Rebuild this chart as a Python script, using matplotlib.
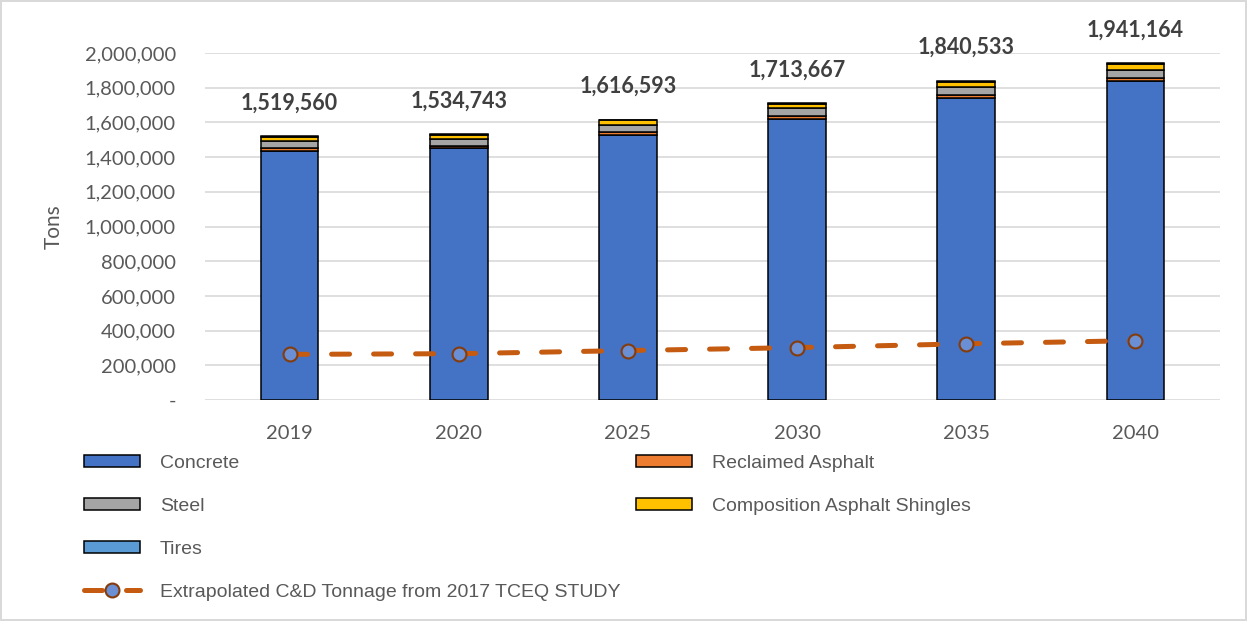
import matplotlib
matplotlib.use("Agg")
import matplotlib.pyplot as plt
import numpy as np
from matplotlib.lines import Line2D
from matplotlib.patches import Patch

years = ["2019", "2020", "2025", "2030", "2035", "2040"]
concrete = [1437000, 1450000, 1528000, 1620000, 1741000, 1836000]
reclaimed_asphalt = [16000, 16500, 17500, 18500, 19500, 20500]
steel = [38000, 38500, 40000, 42000, 45000, 47500]
shingles = [24560, 25000, 26000, 27500, 29000, 30500]
tires = [4000, 4743, 5093, 5667, 6033, 6664]
totals = [1519560, 1534743, 1616593, 1713667, 1840533, 1941164]
tceq_extrapolated = [263000, 267000, 285000, 302000, 324000, 342000]

series = [
    ("Concrete", concrete, "#4472C4"),
    ("Reclaimed Asphalt", reclaimed_asphalt, "#ED7D31"),
    ("Steel", steel, "#A5A5A5"),
    ("Composition Asphalt Shingles", shingles, "#FFC000"),
    ("Tires", tires, "#5B9BD5"),
]

TXT = "#595959"
TICK_FONT = ["Lato", "DejaVu Sans"]
LEG_FONT = ["Liberation Sans", "DejaVu Sans"]

fig = plt.figure(figsize=(12.47, 6.21), dpi=100)
fig.patch.set_edgecolor("#d9d9d9")
fig.patch.set_linewidth(1.5)
ax = fig.add_axes([205 / 1247, 1 - 400 / 621, 1015 / 1247, 347 / 621])

x = np.arange(len(years))
bottom = np.zeros(len(years))
handles = {}
for name, vals, color in series:
    vals = np.array(vals, dtype=float)
    ax.bar(x, vals, width=0.34, bottom=bottom, color=color,
           edgecolor="black", linewidth=1.1, zorder=2)
    handles[name] = Patch(facecolor=color, edgecolor="black", linewidth=1.1)
    bottom += vals

# total labels sit well above each bar
for xi, tot in zip(x, totals):
    ax.text(xi, tot + 190000, f"{tot:,}", ha="center", va="center",
            fontsize=15.5, fontweight="bold", color="#404040", family=TICK_FONT,
            clip_on=False)

ax.plot(x, tceq_extrapolated, color="#C55A11", linewidth=3.6,
        dashes=(3.6, 4.8), dash_capstyle="round", marker="o",
        markersize=10, markerfacecolor="#6A8FD4",
        markeredgecolor="#843C0C", markeredgewidth=1.5, zorder=3)

ax.set_xlim(-0.5, len(years) - 0.5)
ax.set_ylim(0, 2000000)
ax.set_yticks(np.arange(0, 2000001, 200000))
ax.set_yticklabels(["-"] + [f"{v:,}" for v in range(200000, 2000001, 200000)])
ax.set_xticks(x)
ax.set_xticklabels(years)
ax.grid(axis="y", color="#d9d9d9", linewidth=1.2, zorder=0)
ax.set_axisbelow(True)
for s in ax.spines.values():
    s.set_visible(False)
ax.tick_params(axis="both", length=0, colors=TXT, labelsize=14.5)
ax.tick_params(axis="y", pad=21)
ax.tick_params(axis="x", pad=18)
for lab in ax.get_xticklabels() + ax.get_yticklabels():
    lab.set_family(TICK_FONT)
ax.set_ylabel("Tons", fontsize=15, color=TXT, family=TICK_FONT, labelpad=15)

leg_kw = dict(frameon=False, handlelength=2.9, handleheight=0.6,
              handletextpad=1.0, labelspacing=1.33, borderpad=0,
              borderaxespad=0, labelcolor=TXT, prop={"family": LEG_FONT, "size": 14})
line_handle = Line2D([], [], color="#C55A11", linewidth=3.6, dashes=(3.6, 4.8),
                     dash_capstyle="round", marker="o", markersize=10,
                     markerfacecolor="#6A8FD4", markeredgecolor="#843C0C",
                     markeredgewidth=1.5)
left_names = ["Concrete", "Steel", "Tires"]
fig.legend([handles[n] for n in left_names] + [line_handle],
           left_names + ["Extrapolated C&D Tonnage from 2017 TCEQ STUDY"],
           loc="upper left", bbox_to_anchor=(84 / 1247, 1 - 455 / 621),
           numpoints=1, **leg_kw)
right_names = ["Reclaimed Asphalt", "Composition Asphalt Shingles"]
fig.legend([handles[n] for n in right_names], right_names,
           loc="upper left", bbox_to_anchor=(636 / 1247, 1 - 455 / 621),
           **leg_kw)

fig.savefig("out.png", dpi=100, edgecolor=fig.get_edgecolor())
